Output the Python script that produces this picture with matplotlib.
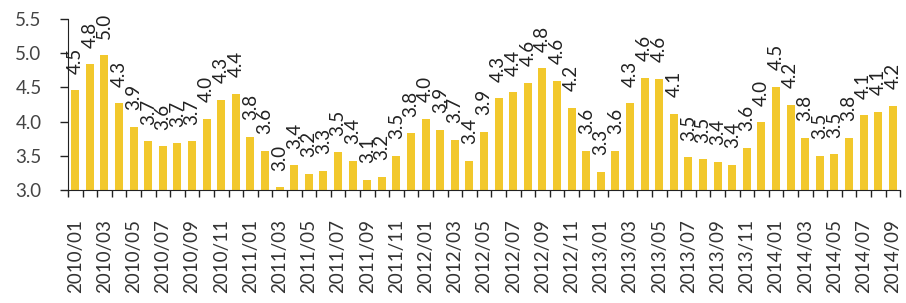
import matplotlib
matplotlib.use("Agg")
import matplotlib.pyplot as plt
import numpy as np

months = [f"{y}/{m:02d}" for y in range(2010, 2015) for m in range(1, 13)][:57]
values = [4.46, 4.84, 4.97, 4.27, 3.92, 3.71, 3.64, 3.68, 3.71, 4.04, 4.32, 4.41,
          3.78, 3.57, 3.04, 3.36, 3.24, 3.28, 3.55, 3.43, 3.15, 3.19, 3.50, 3.83,
          4.04, 3.88, 3.73, 3.43, 3.85, 4.34, 4.43, 4.57, 4.78, 4.60, 4.20, 3.57,
          3.27, 3.57, 4.27, 4.64, 4.63, 4.11, 3.48, 3.45, 3.41, 3.37, 3.62, 3.99,
          4.51, 4.25, 3.76, 3.50, 3.52, 3.76, 4.09, 4.14, 4.23]
yticks = [3.0, 3.5, 4.0, 4.5, 5.0, 5.5]

plt.rcParams['font.family'] = ['Lato', 'DejaVu Sans']

fig = plt.figure(figsize=(9.06, 3.03), dpi=100)
ax = fig.add_axes([0.075, 0.373, 0.9185, 0.564])

x = np.arange(len(values))
ax.bar(x, values, width=0.55, color='#F2C82C', bottom=0)
ax.set_ylim(3.0, 5.5)
ax.set_xlim(-0.5, len(values) - 0.5)

for xi, v in zip(x, values):
    ax.annotate(f"{v:.1f}", (xi, v), xytext=(0, 12), textcoords='offset points',
                rotation=90, ha='center', va='bottom', fontsize=13.5, color='#222222',
                annotation_clip=False)

ax.set_yticks(yticks)
ax.set_yticklabels([f"{t:.1f}" for t in yticks], fontsize=13.5, color='#444444')
ax.tick_params(axis='y', direction='out', length=6, pad=13, width=1, color='#222222')

ax.set_xticks(x[::2])
ax.set_xticklabels(months[::2], rotation=90, fontsize=13.5, color='#333333', va='top')
ax.set_xticks(np.arange(len(values) + 1) - 0.5, minor=True)
ax.tick_params(axis='x', which='major', length=0, pad=21)
ax.tick_params(axis='x', which='minor', direction='out', length=5, width=1, color='#222222')

for s in ['top', 'right']:
    ax.spines[s].set_visible(False)
ax.spines['left'].set_color('#222222')
ax.spines['bottom'].set_color('#222222')

fig.savefig('out.png', dpi=100)
